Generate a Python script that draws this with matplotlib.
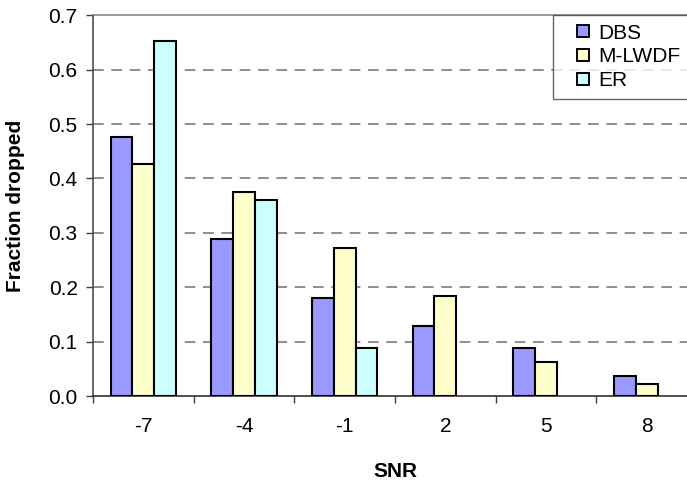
import numpy as np
import matplotlib
matplotlib.use("Agg")
import matplotlib.pyplot as plt
from matplotlib.lines import Line2D

plt.rcParams['font.family'] = ['Liberation Sans', 'DejaVu Sans']

snr = ["-7", "-4", "-1", "2", "5", "8"]
dbs = [0.476, 0.288, 0.180, 0.129, 0.088, 0.037]
mlwdf = [0.427, 0.376, 0.272, 0.184, 0.063, 0.022]
er = [0.652, 0.361, 0.088, np.nan, np.nan, np.nan]

series = [("DBS", dbs, "#9999FF"), ("M-LWDF", mlwdf, "#FFFFCC"), ("ER", er, "#CCFFFF")]

W, H = 687, 483
fig = plt.figure(figsize=(W / 100, H / 100), dpi=100)
ax = fig.add_axes([93 / W, 87 / H, 604 / W, 380.7 / H])

x = np.arange(len(snr))
bw = 0.217
for i, (name, vals, col) in enumerate(series):
    vals = np.asarray(vals, dtype=float)
    ok = ~np.isnan(vals)
    ax.bar(x[ok] + (i - 1) * bw, vals[ok], width=bw, color=col,
           edgecolor="black", linewidth=1.5, zorder=3)

ax.set_xlim(-0.5, len(snr) - 0.5)
ax.set_ylim(0, 0.7)

yt = np.arange(0, 0.71, 0.1)
ax.set_yticks(yt)
ax.set_yticklabels([f"{v:.1f}" for v in yt], fontsize=15)
for v in yt[1:-1]:
    ax.axhline(v, color="#707070", lw=1.1, dashes=(7, 5), zorder=1)

# category boundaries carry the tick marks, centres carry the labels
ax.set_xticks(np.arange(-0.5, len(snr) - 0.4, 1.0))
ax.set_xticklabels([])
ax.set_xticks(x, minor=True)
ax.set_xticklabels(snr, minor=True, fontsize=15)
ax.tick_params(axis="x", which="major", direction="out", length=5, width=1, color="#404040")
ax.tick_params(axis="x", which="minor", length=0, pad=15)
ax.tick_params(axis="y", direction="out", length=5, width=1, color="#404040", pad=6)

ax.spines["top"].set_color("#808080")
ax.spines["right"].set_color("#808080")
ax.spines["left"].set_color("#404040")
ax.spines["bottom"].set_color("#202020")
for s in ax.spines.values():
    s.set_linewidth(1.1)

ax.set_xlabel("SNR", fontsize=15, fontweight="bold", labelpad=19)
ax.set_ylabel("Fraction dropped", fontsize=15, fontweight="bold", labelpad=17)

handles = [Line2D([], [], linestyle="none", marker="s", markersize=8.5,
                  markerfacecolor=c, markeredgecolor="black", markeredgewidth=1.4,
                  label=n) for n, _, c in series]
leg = ax.legend(handles=handles, loc="upper left",
                bbox_to_anchor=(553 / W, 1 - 15 / H), bbox_transform=fig.transFigure,
                fontsize=15, frameon=True, fancybox=False, borderaxespad=0,
                handlelength=2.03, handletextpad=-0.27,
                labelspacing=0.22, borderpad=0.42)
leg.get_frame().set_edgecolor("#404040")
leg.get_frame().set_linewidth(1.0)

fig.savefig("out.png", dpi=100)
